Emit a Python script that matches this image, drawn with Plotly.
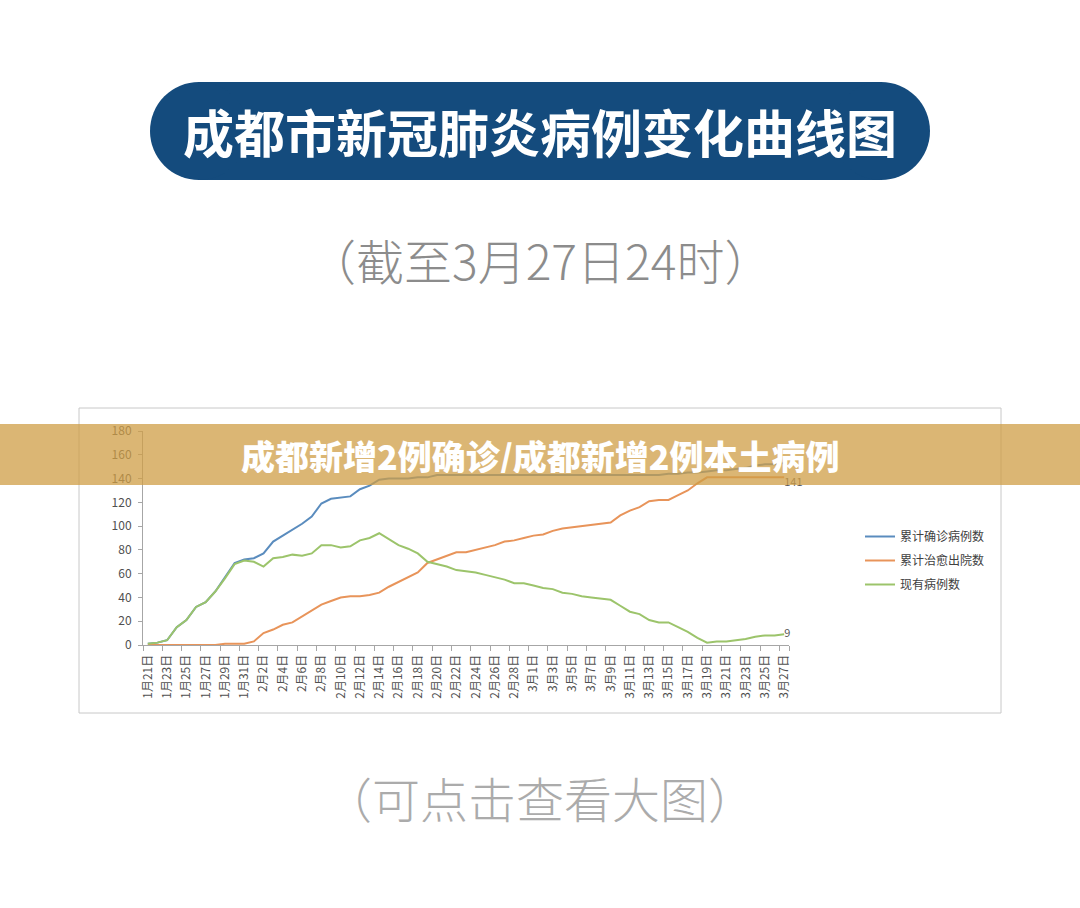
import pandas as pd
import plotly.graph_objects as go

# dates on the x axis, 1月21日 .. 3月27日 (2020)
dates = [f"{d.month}月{d.day}日" for d in pd.date_range("2020-01-21", "2020-03-27")]

# 累计确诊病例数
confirmed = [1, 2, 4, 15, 21, 32, 36, 45, 57, 69,
             72, 73, 77, 87, 92, 97, 102, 108, 119, 123,
             124, 125, 131, 134, 139, 140, 140, 140, 141, 141,
             143, 143, 143, 143, 143, 143, 143, 143, 143, 143,
             143, 143, 143, 143, 143, 143, 143, 143, 143, 143,
             143, 143, 143, 143, 144, 144, 145, 145, 146, 147,
             147, 148, 149, 151, 152, 152, 153]
# 累计治愈出院数
discharged = [0, 0, 0, 0, 0, 0, 0, 0, 1, 1,
              1, 3, 10, 13, 17, 19, 24, 29, 34, 37,
              40, 41, 41, 42, 44, 49, 53, 57, 61, 69,
              72, 75, 78, 78, 80, 82, 84, 87, 88, 90,
              92, 93, 96, 98, 99, 100, 101, 102, 103, 109,
              113, 116, 121, 122, 122, 126, 130, 136, 141, 141,
              141, 141, 141, 141, 141, 141, 141]
# 现有病例数
current = [1, 2, 4, 15, 21, 32, 36, 45, 56, 68,
           71, 70, 66, 73, 74, 76, 75, 77, 84, 84,
           82, 83, 88, 90, 94, 89, 84, 81, 77, 70,
           68, 66, 63, 62, 61, 59, 57, 55, 52, 52,
           50, 48, 47, 44, 43, 41, 40, 39, 38, 33,
           28, 26, 21, 19, 19, 15, 11, 6, 2, 3,
           3, 4, 5, 7, 8, 8, 9]

series_names = ["累计确诊病例数", "累计治愈出院数", "现有病例数"]
series_colors = ["#5A8CBE", "#E8945A", "#9CC46B"]
# end-of-line value labels: only these two are readable in the source
end_labels = [None, "bottom right", "middle right"]

FONT = "Noto Sans CJK SC"

# plot area in page pixels
L, R, T, B = 143, 789, 431, 645
W, H = 1080, 908


def fx(px):
    return (px - L) / (R - L)


def fy(py):
    return (B - py) / (B - T)


days = list(range(len(dates)))

fig = go.Figure()
for name, vals, col, pos in zip(series_names, [confirmed, discharged, current],
                                series_colors, end_labels):
    labels = [""] * (len(vals) - 1) + [str(vals[-1]) if pos else ""]
    fig.add_trace(go.Scatter(x=days, y=vals, name=name, legendgroup=name,
                             mode="lines+text", text=labels,
                             textposition=pos or "middle right", cliponaxis=False,
                             textfont=dict(family=FONT, size=11, color="#595959"),
                             line=dict(color=col, width=2),
                             hoverinfo="skip"))

fig.update_xaxes(range=[-0.5, len(dates) - 0.5],
                 tickmode="array", tickvals=days[::2], ticktext=dates[::2],
                 tickangle=-90, ticks="", ticklabelstandoff=4,
                 tickfont=dict(family=FONT, size=12, color="#505050"),
                 showline=True, linecolor="#A6A6A6", linewidth=1,
                 showgrid=False, zeroline=False,
                 minor=dict(tickvals=[d - 0.5 for d in days[::2]] + [days[-1] + 0.5],
                            ticks="outside", ticklen=5, tickcolor="#A6A6A6"))
fig.update_yaxes(range=[0, 180], tickvals=list(range(0, 181, 20)),
                 ticks="outside", ticklen=4, tickcolor="#A6A6A6", ticklabelstandoff=4,
                 tickfont=dict(family=FONT, size=12, color="#505050"),
                 showline=True, linecolor="#A6A6A6", linewidth=1,
                 showgrid=False, zeroline=False)

shapes = [
    # chart frame
    dict(type="rect", xref="paper", yref="paper", x0=fx(79), x1=fx(1001), y0=fy(713), y1=fy(408),
         line=dict(color="#C8C8C8", width=1), layer="below"),
    # title pill
    dict(type="rect", xref="paper", yref="paper", x0=fx(199), x1=fx(881), y0=fy(180), y1=fy(82),
         fillcolor="#144B7D", line=dict(width=0)),
    dict(type="circle", xref="paper", yref="paper", x0=fx(150), x1=fx(248), y0=fy(180), y1=fy(82),
         fillcolor="#144B7D", line=dict(width=0)),
    dict(type="circle", xref="paper", yref="paper", x0=fx(832), x1=fx(930), y0=fy(180), y1=fy(82),
         fillcolor="#144B7D", line=dict(width=0)),
    # banner over the chart
    dict(type="rect", xref="paper", yref="paper", x0=fx(0), x1=fx(W), y0=fy(485), y1=fy(424),
         fillcolor="rgba(207,157,70,0.75)", line=dict(width=0), layer="above"),
]

annotations = [
    dict(text="<b>成都市新冠肺炎病例变化曲线图</b>", x=fx(540), y=fy(131),
         font=dict(family=FONT, size=51, color="white")),
    dict(text="（截至3月27日24时）", x=fx(540), y=fy(259),
         font=dict(family=FONT, size=48, color="#8C8C8C", weight=300)),
    dict(text="成都新增2例确诊/成都新增2例本土病例", x=fx(540), y=fy(455),
         height=36, borderpad=0, valign="middle",
         font=dict(family=FONT, size=34, color="white", weight=900)),
    dict(text="（可点击查看大图）", x=fx(540), y=fy(797),
         font=dict(family=FONT, size=48, color="#ABABAB", weight=300)),
]
for a in annotations:
    a.update(xref="paper", yref="paper", showarrow=False, xanchor="center", yanchor="middle")

fig.update_layout(width=W, height=H,
                  margin=dict(l=L, r=W - R, t=T, b=H - B, autoexpand=False),
                  paper_bgcolor="white", plot_bgcolor="white",
                  font=dict(family=FONT),
                  shapes=shapes, annotations=annotations,
                  legend=dict(x=fx(860), y=fy(522), xanchor="left", yanchor="top",
                              traceorder="grouped", tracegroupgap=5,
                              font=dict(family=FONT, size=12, color="#404040"),
                              bgcolor="rgba(0,0,0,0)"))

fig.write_html("out.html", config={"displayModeBar": False},
               post_script="document.body.style.margin='0';")
